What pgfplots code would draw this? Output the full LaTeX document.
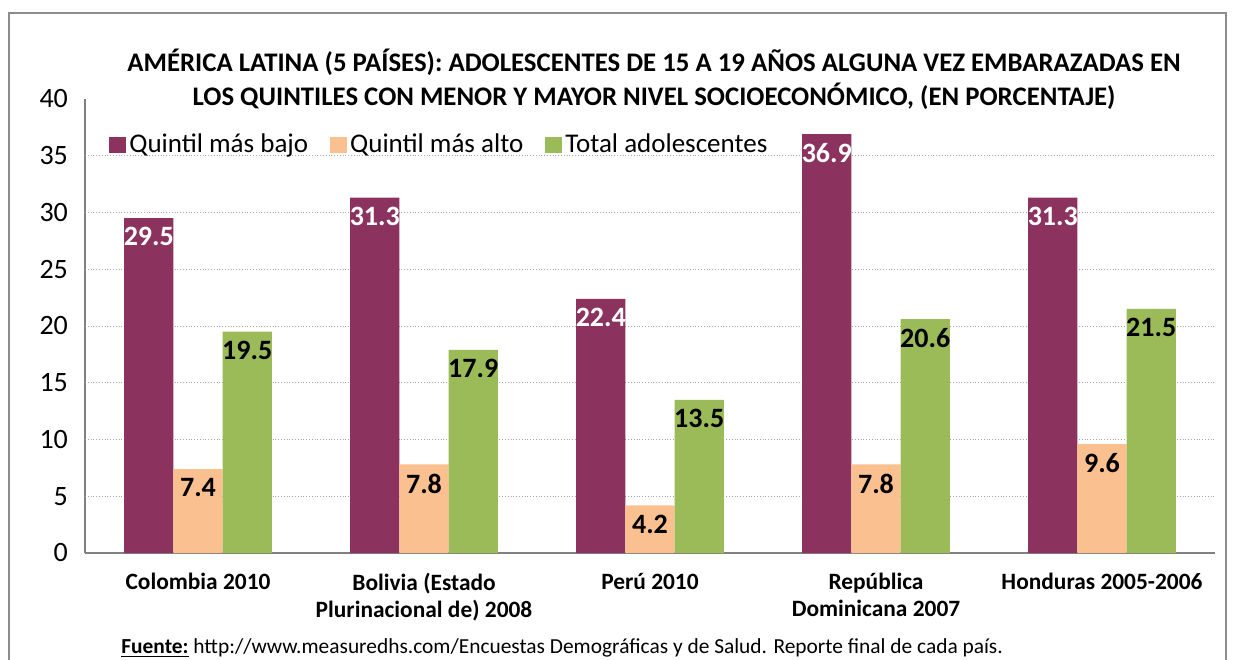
\documentclass[border=0pt]{standalone}
\usepackage{pgfplots}
\pgfplotsset{compat=1.18}
\usepackage{fontspec}
\setmainfont{Carlito}
\definecolor{cmaroon}{HTML}{8B335E}
\definecolor{cpeach}{HTML}{FAC090}
\definecolor{cgreen}{HTML}{9BBB59}
\definecolor{cframe}{HTML}{8C8C8C}
\begin{document}
\begin{tikzpicture}
\useasboundingbox (0,0) rectangle (618pt,329.5pt);
\draw[cframe, line width=0.8pt] (4.5pt,-5pt) -- (4.5pt,323pt) -- (613pt,323pt) -- (613pt,-5pt);
\begin{axis}[
  at={(42.5pt,53pt)}, anchor=south west,
  scale only axis, width=565pt, height=227pt,
  ybar=0pt, bar width=24.6pt,
  xmin=-0.5, xmax=4.5, ymin=0, ymax=40,
  xtick={0,1,2,3,4},
  xticklabels={{Colombia 2010},{Bolivia (Estado\\Plurinacional de) 2008},{Perú 2010},{República\\Dominicana 2007},{Honduras 2005-2006}},
  xticklabel style={font=\fontsize{11.7}{13.5}\selectfont\bfseries, align=center, yshift=-6.5pt},
  ytick={0,5,...,40},
  yticklabel style={font=\fontsize{14}{15}\selectfont, xshift=-5pt},
  /pgf/number format/assume math mode=true,
  extra y ticks={5,10,...,35},
  extra y tick labels={},
  extra y tick style={grid=major},
  grid style={densely dotted, draw=gray!70, line width=0.5pt},
  major tick length=0pt,
  axis lines*=left,
  axis line style={draw=gray, line width=0.7pt, -},
  legend style={at={(9pt,204pt)}, anchor=west, draw=none, fill=none,
    font=\fontsize{13.5}{15}\selectfont, legend columns=3,
    nodes={inner xsep=1.5pt},
    /tikz/every even column/.append style={column sep=9.5pt}},
  legend image code/.code={\fill[#1,draw=none] (0pt,-4.2pt) rectangle (8.5pt,4.2pt);},
  legend cell align=left,
  nodes near coords,
  nodes near coords style={anchor=north, font=\fontsize{14}{15}\selectfont\bfseries, inner sep=2.5pt, yshift=-2pt},
  every axis plot/.append style={draw=none},
]
\addplot[fill=cmaroon, nodes near coords style={text=white}] coordinates {(0,29.5) (1,31.3) (2,22.4) (3,36.9) (4,31.3)};
\addplot[fill=cpeach, nodes near coords style={text=black}] coordinates {(0,7.4) (1,7.8) (2,4.2) (3,7.8) (4,9.6)};
\addplot[fill=cgreen, nodes near coords style={text=black}] coordinates {(0,19.5) (1,17.9) (2,13.5) (3,20.6) (4,21.5)};
\legend{Quintil más bajo, Quintil más alto, Total adolescentes}
\end{axis}
\node[align=center, font=\fontsize{13.4}{17}\selectfont\bfseries, fill=white, inner sep=1pt] at (327pt,290pt)
  {AMÉRICA LATINA (5 PAÍSES): ADOLESCENTES DE 15 A 19 AÑOS ALGUNA VEZ EMBARAZADAS EN\\LOS QUINTILES CON MENOR Y MAYOR NIVEL SOCIOECONÓMICO, (EN PORCENTAJE)};
\node[anchor=west, font=\fontsize{10.7}{12}\selectfont, inner sep=0pt] at (60.5pt,5.5pt)
  {\underline{\textbf{Fuente:}} http://www.measuredhs.com/Encuestas Demográficas y de Salud. Reporte final de cada país.};
\end{tikzpicture}
\end{document}
